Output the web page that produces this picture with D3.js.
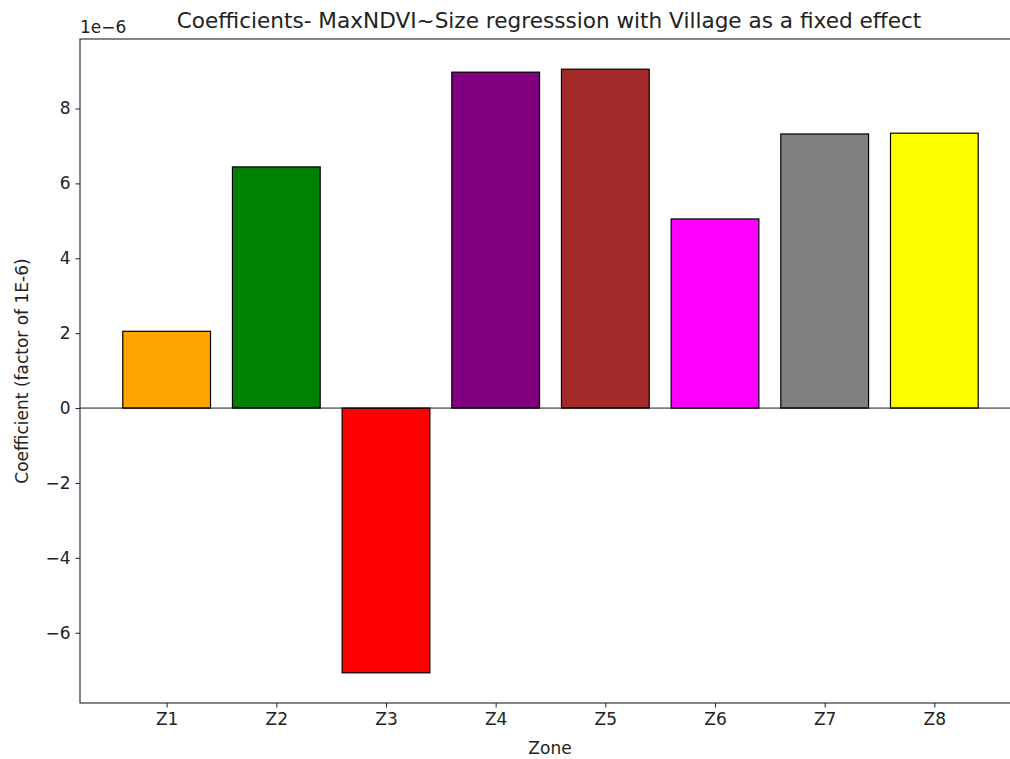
<!DOCTYPE html>
<html>
<head>
<meta charset="utf-8">
<script src="https://cdn.jsdelivr.net/npm/d3@7"></script>
<style>
  body { margin: 0; background: #fff; }
  svg { display: block; font-family: "DejaVu Sans", sans-serif; }
</style>
</head>
<body>
<div id="chart"></div>
<script>
// ========== DATA ==========
const zones = ["Z1", "Z2", "Z3", "Z4", "Z5", "Z6", "Z7", "Z8"];
const coefs = [2.05, 6.44, -7.07, 8.97, 9.05, 5.05, 7.32, 7.34];
const barColors = ["orange", "green", "red", "purple", "brown", "magenta", "gray", "yellow"];
const yTicks = [-6, -4, -2, 0, 2, 4, 6, 8];

const W = 1010, H = 759;
const margin = { top: 39, right: -11, bottom: 56, left: 80 };
const width = W - margin.left - margin.right;
const height = H - margin.top - margin.bottom;
const fs = "17px";

const svg = d3.select("#chart").append("svg")
  .attr("width", W).attr("height", H);
const g = svg.append("g").attr("transform", `translate(${margin.left},${margin.top})`);

// matplotlib style limits: bars of width 0.8, 5% margins
const n = zones.length;
const xPad = 0.05 * (n - 1 + 0.8);
const x = d3.scaleLinear().domain([-0.4 - xPad, n - 1 + 0.4 + xPad]).range([0, width]);
const lo = d3.min(coefs), hi = d3.max(coefs);
const yPad = 0.05 * (hi - lo);
const y = d3.scaleLinear().domain([lo - yPad, hi + yPad]).range([height, 0]);

// Bars
g.selectAll(".bar").data(coefs).enter().append("rect")
  .attr("x", (d, i) => x(i - 0.4))
  .attr("width", (d, i) => x(i + 0.4) - x(i - 0.4))
  .attr("y", d => y(Math.max(0, d)))
  .attr("height", d => Math.abs(y(d) - y(0)))
  .attr("fill", (d, i) => barColors[i])
  .attr("stroke", "#000").attr("stroke-width", 1.2);

// Zero line
g.append("line")
  .attr("x1", 0).attr("x2", width)
  .attr("y1", y(0)).attr("y2", y(0))
  .attr("stroke", "#000").attr("stroke-width", 0.9);

// Axes
const yAxis = g.append("g")
  .call(d3.axisLeft(y).tickValues(yTicks).tickSize(4.5).tickPadding(5)
    .tickFormat(d => d < 0 ? "\u2212" + Math.abs(d) : d));
const xAxis = g.append("g").attr("transform", `translate(0,${height})`)
  .call(d3.axisBottom(x).tickValues(d3.range(n)).tickSize(4.5).tickPadding(5)
    .tickFormat(i => zones[i]));
[yAxis, xAxis].forEach(a => {
  a.select(".domain").remove();
  a.selectAll("line").attr("stroke", "#222").attr("stroke-width", 1);
  a.selectAll("text").attr("fill", "#222").attr("font-size", fs)
    .attr("font-family", "DejaVu Sans, sans-serif");
});

// Spines
g.append("rect").attr("x", 0).attr("y", 0).attr("width", width).attr("height", height)
  .attr("fill", "none").attr("stroke", "#222").attr("stroke-width", 1.1);

// Offset text
g.append("text").attr("x", 0).attr("y", -6)
  .attr("font-size", fs).attr("fill", "#222").text("1e\u22126");

// Title and labels
svg.append("text").attr("x", 549).attr("y", 28)
  .attr("text-anchor", "middle").attr("font-size", "21.6px").attr("fill", "#222")
  .text("Coefficients- MaxNDVI~Size regresssion with Village as a fixed effect");
svg.append("text").attr("x", 550).attr("y", 754)
  .attr("text-anchor", "middle").attr("font-size", fs).attr("fill", "#222")
  .text("Zone");
svg.append("text")
  .attr("transform", `translate(28,${margin.top + height / 2}) rotate(-90)`)
  .attr("text-anchor", "middle").attr("font-size", fs).attr("fill", "#222")
  .text("Coefficient (factor of 1E-6)");
</script>
</body>
</html>
